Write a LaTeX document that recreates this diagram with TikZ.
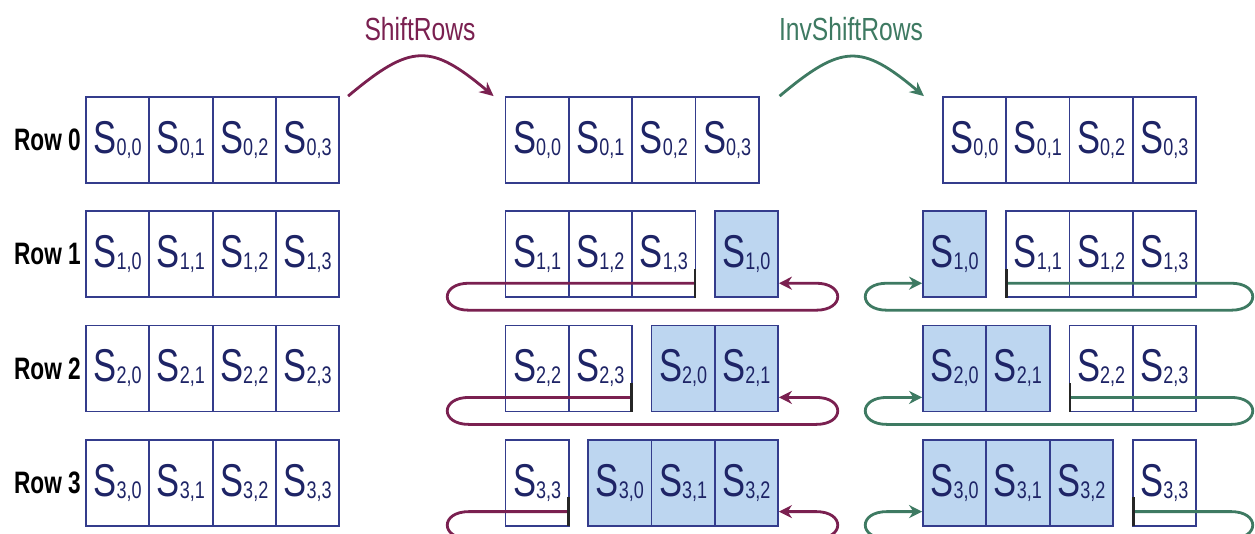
\documentclass[tikz,border=0pt]{standalone}
\usepackage{fontspec}
\setmainfont{Liberation Sans}
\usepackage{graphicx}
\usetikzlibrary{arrows.meta,calc}

\definecolor{boxline}{HTML}{343C8C}
\definecolor{celltext}{HTML}{1E2466}
\definecolor{moved}{HTML}{BDD6F0}
\definecolor{fwd}{HTML}{7A2050}
\definecolor{inv}{HTML}{3E7A62}

% state byte S_{r,c}, set in a narrow sans
\newcommand\stxt[2]{\scalebox{0.75}[1]{\fontsize{46}{46}\selectfont S\raisebox{-2pt}{\fontsize{24}{24}\selectfont #1,#2}}}

\tikzset{
  cellbox/.style={draw=boxline, line width=1.8pt, minimum width=63.3pt,
    minimum height=86pt, inner sep=0pt, text=celltext},
  movedbox/.style={cellbox, fill=moved},
  rowlabel/.style={anchor=east, inner sep=0pt,
    font=\bfseries\fontsize{31}{31}\selectfont},
  oplabel/.style={inner sep=0pt, font=\fontsize{32}{32}\selectfont},
  fwdarrow/.style={draw=fwd, line width=2.8pt, -{Stealth[length=14pt,width=13pt]}},
  invarrow/.style={draw=inv, line width=2.8pt, -{Stealth[length=14pt,width=13pt]}},
  fwdloop/.style={draw=fwd, line width=2.8pt,
    {Bar[width=29pt,color=black!85]}-{Stealth[length=13pt,width=13pt]}},
  invloop/.style={draw=inv, line width=2.8pt,
    {Bar[width=29pt,color=black!85]}-{Stealth[length=13pt,width=13pt]}},
}

\begin{document}
\begin{tikzpicture}[x=1pt,y=1pt]
  \clip (0,0) rectangle (1255,-533);
  \fill[white] (0,0) rectangle (1255,-533);

  % the three state matrices: input, after ShiftRows, after InvShiftRows
  \foreach \r in {0,...,3}{
    \pgfmathsetmacro\yrow{-140-114.2*\r}
    \node[rowlabel] (row\r) at (81,\yrow) {\scalebox{0.73}[1]{Row \r}};
    \foreach \c in {0,...,3}{
      \pgfmathsetmacro\y{-140-114.2*\r}
      \node[cellbox] (L\r\c) at ({86+63.3*(\c+0.5)},\y) {\stxt{\r}{\c}};
      \ifnum\c<\r
        \node[movedbox] (M\r\c) at ({778-63.3*(\r-\c-0.5)},\y) {\stxt{\r}{\c}};
        \node[movedbox] (R\r\c) at ({923+63.3*(\c+0.5)},\y) {\stxt{\r}{\c}};
      \else
        \node[cellbox] (M\r\c) at ({505.5+63.3*(\c-\r+0.5)},\y) {\stxt{\r}{\c}};
        \node[cellbox] (R\r\c) at ({1196-63.3*(3.5-\c)},\y) {\stxt{\r}{\c}};
      \fi
    }
  }

  % operation arrows and their names
  \node[oplabel, text=fwd] (shiftlbl) at (420,-29) {\scalebox{0.77}[1]{ShiftRows}};
  \node[oplabel, text=inv] (invlbl) at (851,-29) {\scalebox{0.77}[1]{InvShiftRows}};
  \draw[fwdarrow] ([xshift=8pt]L03.north east) to[out=40,in=140,looseness=1.45]
    ([xshift=-11pt]M00.north west);
  \draw[invarrow] ([xshift=20pt]M03.north east) to[out=40,in=140,looseness=1.45]
    ([xshift=-18pt]R00.north west);

  % cyclic rotation loops of rows 1-3
  \foreach \r in {1,2,3}{
    \pgfmathsetmacro\ya{-140-114.2*\r-29}
    \pgfmathsetmacro\yb{-140-114.2*\r-56}
    \pgfmathtruncatemacro\last{\r-1}
    \draw[fwdloop] ([yshift=-29pt]M\r3.east) -- (469,\ya)
      .. controls (440,\ya) and (440,\yb) .. (469,\yb) -- (816,\yb)
      .. controls (845,\yb) and (845,\ya) .. (816,\ya) -- ([yshift=-29pt]M\r\last.east);
    \draw[invloop] ([yshift=-29pt]R\r\r.west) -- (1231,\ya)
      .. controls (1260,\ya) and (1260,\yb) .. (1231,\yb) -- (887,\yb)
      .. controls (858,\yb) and (858,\ya) .. (887,\ya) -- ([yshift=-29pt]R\r0.west);
  }
\end{tikzpicture}
\end{document}
